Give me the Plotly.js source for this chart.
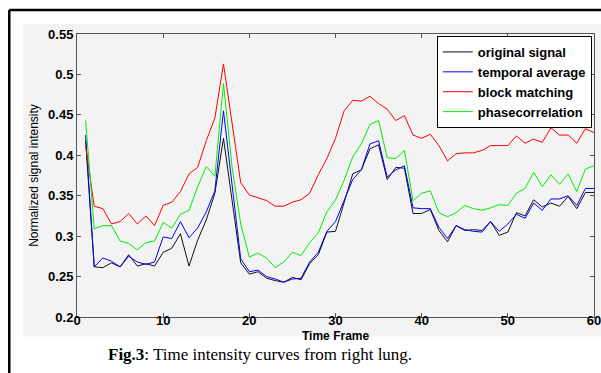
<!DOCTYPE html>
<html>
<head>
<meta charset="utf-8">
<script src="https://cdn.plot.ly/plotly-3.0.1.min.js"></script>
<style>html,body{margin:0;padding:0;background:#fff;}#chart{width:601px;height:373px;}</style>
</head>
<body>
<div id="chart"></div>
<script>
var frames = [1,2,3,4,5,6,7,8,9,10,11,12,13,14,15,16,17,18,19,20,21,22,23,24,25,26,27,28,29,30,
              31,32,33,34,35,36,37,38,39,40,41,42,43,44,45,46,47,48,49,50,51,52,53,54,55,56,57,58,59,60];

var originalSignal = [0.418,0.262,0.261,0.267,0.262,0.277,0.263,0.266,0.263,0.280,
                      0.285,0.303,0.263,0.295,0.320,0.353,0.421,0.344,0.267,0.253,
                      0.256,0.248,0.245,0.243,0.249,0.246,0.266,0.277,0.305,0.306,
                      0.342,0.377,0.382,0.408,0.413,0.370,0.385,0.384,0.328,0.328,
                      0.333,0.307,0.293,0.313,0.307,0.308,0.307,0.318,0.301,0.305,
                      0.329,0.325,0.345,0.336,0.341,0.337,0.349,0.334,0.354,0.354];

var temporalAverage = [0.425,0.262,0.273,0.269,0.262,0.275,0.268,0.265,0.268,0.299,
                       0.297,0.318,0.298,0.310,0.330,0.356,0.455,0.361,0.272,0.256,
                       0.258,0.250,0.247,0.243,0.247,0.248,0.268,0.280,0.306,0.318,
                       0.344,0.370,0.382,0.414,0.418,0.373,0.382,0.387,0.335,0.334,
                       0.334,0.311,0.297,0.313,0.308,0.306,0.305,0.318,0.306,0.315,
                       0.327,0.322,0.341,0.332,0.346,0.346,0.350,0.338,0.359,0.359];

var blockMatching = [0.412,0.337,0.334,0.315,0.318,0.328,0.315,0.325,0.313,0.338,
                     0.342,0.355,0.377,0.385,0.418,0.446,0.513,0.441,0.366,0.351,
                     0.347,0.344,0.337,0.337,0.342,0.345,0.353,0.376,0.396,0.421,
                     0.455,0.468,0.467,0.473,0.464,0.457,0.443,0.449,0.425,0.421,
                     0.426,0.412,0.393,0.402,0.403,0.403,0.406,0.412,0.412,0.412,
                     0.424,0.415,0.420,0.416,0.434,0.425,0.425,0.415,0.433,0.428];

var phaseCorrelation = [0.443,0.309,0.313,0.313,0.294,0.291,0.283,0.292,0.294,0.317,
                        0.310,0.327,0.332,0.361,0.386,0.374,0.489,0.385,0.315,0.274,
                        0.279,0.273,0.261,0.268,0.280,0.276,0.292,0.304,0.330,0.345,
                        0.369,0.398,0.414,0.438,0.443,0.397,0.396,0.406,0.344,0.353,
                        0.356,0.329,0.324,0.329,0.338,0.334,0.332,0.335,0.339,0.338,
                        0.353,0.359,0.379,0.361,0.376,0.364,0.377,0.355,0.383,0.387];

var seriesNames = ["original signal","temporal average","block matching","phasecorrelation"];
var xTickVals = [0,10,20,30,40,50,60];
var yTickVals = [0.2,0.25,0.3,0.35,0.4,0.45,0.5,0.55];
var yTickText = ["0.2","0.25","0.3","0.35","0.4","0.45","0.5","0.55"];

var colors = ["#111111","#0000ff","#ff0000","#00ee00"];
var ys = [originalSignal, temporalAverage, blockMatching, phaseCorrelation];
var traces = ys.map(function(y,i){
  return {x: frames, y: y, type: "scatter", mode: "lines", name: seriesNames[i],
          line: {color: colors[i], width: 1}};
});
// empty helper trace so the label-only axis (xaxis2) is drawn
traces.push({x: [], y: [], type: "scatter", mode: "lines", xaxis: "x2", yaxis: "y",
             showlegend: false, hoverinfo: "skip"});

var sans = "Liberation Sans, Arial, sans-serif";

var layout = {
  width: 601, height: 373,
  margin: {l: 77, r: 7, t: 34, b: 56},
  paper_bgcolor: "#ffffff",
  plot_bgcolor: "#ffffff",
  showlegend: true,
  legend: {x: 0.696, y: 0.993, xanchor: "left", yanchor: "top",
           bgcolor: "#ffffff", bordercolor: "#000000", borderwidth: 1,
           font: {family: sans, size: 13, color: "#000", weight: "bold"},
           tracegroupgap: 0},
  xaxis: {range: [0, 60], tickvals: xTickVals, ticks: "inside", ticklen: 4, tickcolor: "#555",
          showline: true, linecolor: "#555", linewidth: 1, mirror: "ticks", showgrid: false, zeroline: false,
          showticklabels: false},
  xaxis2: {range: [0, 60], tickvals: xTickVals, overlaying: "x", anchor: "free", position: 0.02, side: "bottom",
           ticks: "", showline: false, showgrid: false, zeroline: false,
           ticklabeloverflow: "allow",
           tickfont: {family: sans, size: 13, color: "#000", weight: "bold"}},
  yaxis: {range: [0.2, 0.55], tickvals: yTickVals, ticktext: yTickText, ticks: "inside", ticklen: 4, tickcolor: "#555",
          showline: true, linecolor: "#555", linewidth: 1, mirror: "ticks", showgrid: false, zeroline: false,
          tickfont: {family: sans, size: 13, color: "#000", weight: "bold"},
          title: {text: "Normalized signal intensity", standoff: 6,
                  font: {family: sans, size: 12, color: "#000"}}},
  shapes: [
    {type: "rect", xref: "paper", yref: "paper", x0: -0.104, x1: 1.02, y0: -0.069, y1: 1.035,
     fillcolor: "#f3f3f3", line: {width: 0}, layer: "below"},
    {type: "line", xref: "paper", yref: "paper", x0: -0.131, x1: 1.02, y0: 1.085, y1: 1.085,
     line: {color: "#000", width: 2.5}},
    {type: "line", xref: "paper", yref: "paper", x0: -0.131, x1: -0.131, y0: 1.085, y1: -0.2,
     line: {color: "#000", width: 2.5}}
  ],
  annotations: [
    {xref: "paper", yref: "paper", x: 0.5, y: -0.066, xanchor: "center", yanchor: "middle", showarrow: false,
     text: "<b>Time Frame</b>", font: {family: sans, size: 12, color: "#000"}},
    {xref: "paper", yref: "paper", x: 0.354, y: -0.131, xanchor: "center", yanchor: "middle", showarrow: false,
     text: "<b>Fig.3</b>: Time intensity curves from right lung.",
     font: {family: "Liberation Serif, Times New Roman, serif", size: 17, color: "#000"}}
  ]
};

Plotly.newPlot("chart", traces, layout, {displayModeBar: false, staticPlot: true});
</script>
</body>
</html>
